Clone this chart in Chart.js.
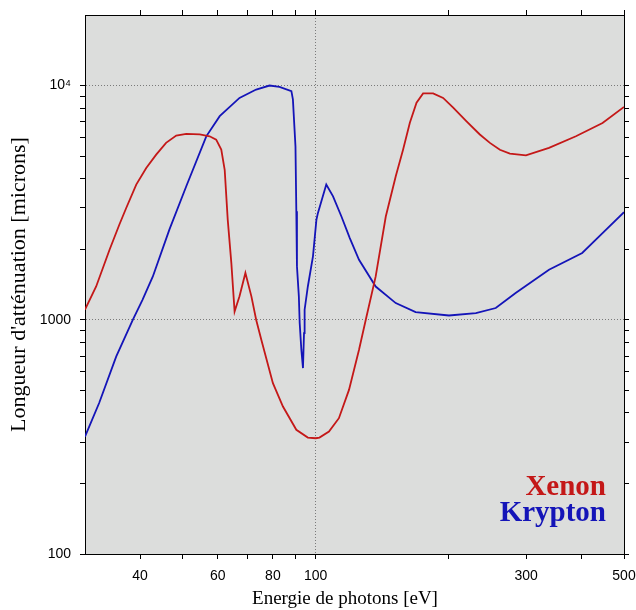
<!DOCTYPE html>
<html>
<head>
<meta charset="utf-8">
<title>Longueur d'atténuation</title>
<script src="https://cdn.jsdelivr.net/npm/chart.js@4.4.1/dist/chart.umd.min.js"></script>
<style>
  html, body { margin: 0; padding: 0; background: #fff; }
  #wrap { position: relative; width: 636px; height: 610px; }
</style>
</head>
<body>
<div id="wrap"><canvas id="attenChart"></canvas></div>
<script>
// values (energy in eV, length in microns)
const xenonEnergy = [30, 31.8, 34.1, 35.9, 37.2, 39.2, 41.3, 43.5, 45.8, 48.3, 50.9, 54.6, 57.5, 59.5, 61.1, 62.2, 63.2, 64.4, 65.5, 67.2, 69.3, 71.5, 73.3, 75.3, 80, 84.3, 90.4, 96, 100, 102, 107.2, 112.9, 119, 125.4, 129.9, 136.8, 144.2, 151.9, 157.8, 163.5, 169.3, 175.2, 184.6, 194.5, 205, 219.8, 235.6, 248.3, 261.6, 275.6, 299.7, 338, 389, 447, 500];
const xenonLength = [1104, 1387, 1990, 2550, 3000, 3776, 4446, 5070, 5690, 6110, 6220, 6180, 6070, 5870, 5330, 4370, 2670, 1746, 1084, 1259, 1584, 1259, 1000, 822, 536, 426, 339, 314, 312, 314, 333, 380, 502, 745, 1000, 1531, 2760, 4100, 5320, 6936, 8440, 9250, 9250, 8850, 8040, 7030, 6180, 5690, 5320, 5120, 5030, 5420, 6070, 6920, 8100];

const kryptonEnergy = [30, 32.3, 35.3, 38.5, 40.5, 42.75, 46.6, 50.9, 56.5, 60.6, 67.2, 73.3, 78.6, 82.8, 88.1, 88.8, 90, 90.4, 90.7, 91.6, 92, 92.8, 93.6, 94.1, 94.4, 96, 98.6, 100.4, 101.2, 105.7, 109.5, 114.4, 119.5, 125.4, 136.8, 151.9, 168.5, 200.5, 230.8, 256, 284, 338, 402, 447, 500];
const kryptonLength = [317, 441, 696, 1000, 1217, 1531, 2425, 3715, 6070, 7400, 8850, 9610, 10000, 9870, 9470, 8720, 5500, 2905, 1690, 1259, 968, 745, 622, 877, 1104, 1387, 1866, 2673, 2858, 3775, 3365, 2760, 2232, 1803, 1386, 1178, 1079, 1043, 1068, 1122, 1300, 1636, 1928, 2344, 2880];

const energyTicks = [40, 50, 60, 70, 80, 90, 100, 200, 300, 400, 500];
const energyLabels = [40, 60, 80, 100, 300, 500];
const lengthTicks = [100, 200, 300, 400, 500, 600, 700, 800, 900, 1000, 2000, 3000, 4000, 5000, 6000, 7000, 8000, 9000, 10000];
const lengthLabelValues = [100, 1000, 10000];
const lengthLabelTexts = ['100', '1000', '10\u2074'];

const toPoints = (xs, ys) => xs.map((x, i) => ({ x: x, y: ys[i] }));

const sansFont = '"Liberation Sans", Arial, sans-serif';
const serifFont = '"Liberation Serif", "Times New Roman", serif';

// gray plot background + series names in the lower right corner
const plotDecor = {
    id: 'plotDecor',
    beforeDraw(chart) {
        const { ctx, chartArea: a } = chart;
        ctx.save();
        ctx.fillStyle = '#dcdddc';
        ctx.fillRect(a.left, a.top, a.right - a.left, a.bottom - a.top);
        ctx.restore();
    },
    afterDatasetsDraw(chart) {
        const { ctx, chartArea: a } = chart;
        ctx.save();
        ctx.font = 'bold 29px ' + serifFont;
        ctx.textAlign = 'right';
        ctx.textBaseline = 'alphabetic';
        chart.data.datasets.forEach((ds, i) => {
            ctx.fillStyle = ds.borderColor;
            ctx.fillText(ds.label, a.right - 18, a.bottom - 59 + i * 26);
        });
        ctx.restore();
    }
};

// fixed axis sizes so the plot frame lands where the original one is
const fixHeight = h => s => { s.height = h; s.paddingLeft = 0; s.paddingRight = 0; };
const fixWidth = w => s => { s.width = w; s.paddingTop = 0; s.paddingBottom = 0; };

const ctx = document.getElementById('attenChart').getContext('2d');

new Chart(ctx, {
    type: 'line',
    data: {
        datasets: [
            { label: 'Xenon', data: toPoints(xenonEnergy, xenonLength), borderColor: '#c41818', borderWidth: 1.8, pointRadius: 0, tension: 0 },
            { label: 'Krypton', data: toPoints(kryptonEnergy, kryptonLength), borderColor: '#1414b8', borderWidth: 1.8, pointRadius: 0, tension: 0 }
        ]
    },
    options: {
        responsive: true,
        maintainAspectRatio: false,
        animation: false,
        layout: { padding: 0 },
        plugins: { legend: { display: false }, tooltip: { enabled: false } },
        scales: {
            x: {
                type: 'logarithmic', position: 'bottom', min: 30, max: 500,
                afterBuildTicks: s => { s.ticks = energyTicks.map(v => ({ value: v })); },
                afterFit: fixHeight(56),
                ticks: {
                    autoSkip: false, maxRotation: 0, padding: 9, color: '#000',
                    font: { family: sansFont, size: 14 },
                    callback: v => energyLabels.includes(v) ? String(v) : ''
                },
                grid: {
                    color: c => (c.tick && c.tick.value === 100) ? '#7a7a7a' : 'transparent',
                    tickColor: '#000', tickLength: 5, lineWidth: 1
                },
                border: { color: '#000', width: 1, dash: [1, 2] },
                title: { display: true, text: 'Energie de photons [eV]    ', color: '#000', font: { family: serifFont, size: 19 }, padding: { top: 0, bottom: 0 } }
            },
            x2: {
                type: 'logarithmic', position: 'top', min: 30, max: 500,
                afterBuildTicks: s => { s.ticks = energyTicks.map(v => ({ value: v })); },
                afterFit: fixHeight(15),
                ticks: { display: false },
                grid: { drawOnChartArea: false, tickColor: '#000', tickLength: 5 },
                border: { color: '#000', width: 1 }
            },
            y: {
                type: 'logarithmic', position: 'left', min: 100, max: 20000,
                afterBuildTicks: s => { s.ticks = lengthTicks.map(v => ({ value: v })); },
                afterFit: fixWidth(85),
                ticks: {
                    autoSkip: false, padding: 9, color: '#000',
                    font: { family: sansFont, size: 14 },
                    callback: v => {
                        const k = lengthLabelValues.indexOf(v);
                        return k >= 0 ? lengthLabelTexts[k] : '';
                    }
                },
                grid: {
                    color: c => (c.tick && (c.tick.value === 1000 || c.tick.value === 10000)) ? '#7a7a7a' : 'transparent',
                    tickColor: '#000', tickLength: 5, lineWidth: 1
                },
                border: { color: '#000', width: 1, dash: [1, 2] },
                title: { display: true, text: "Longueur d'atténuation [microns]", color: '#000', font: { family: serifFont, size: 22 }, padding: { top: 6, bottom: 0 } }
            },
            y2: {
                type: 'logarithmic', position: 'right', min: 100, max: 20000,
                afterBuildTicks: s => { s.ticks = lengthTicks.map(v => ({ value: v })); },
                afterFit: fixWidth(12),
                ticks: { display: false },
                grid: { drawOnChartArea: false, tickColor: '#000', tickLength: 5 },
                border: { color: '#000', width: 1 }
            }
        }
    },
    plugins: [plotDecor]
});
</script>
</body>
</html>
